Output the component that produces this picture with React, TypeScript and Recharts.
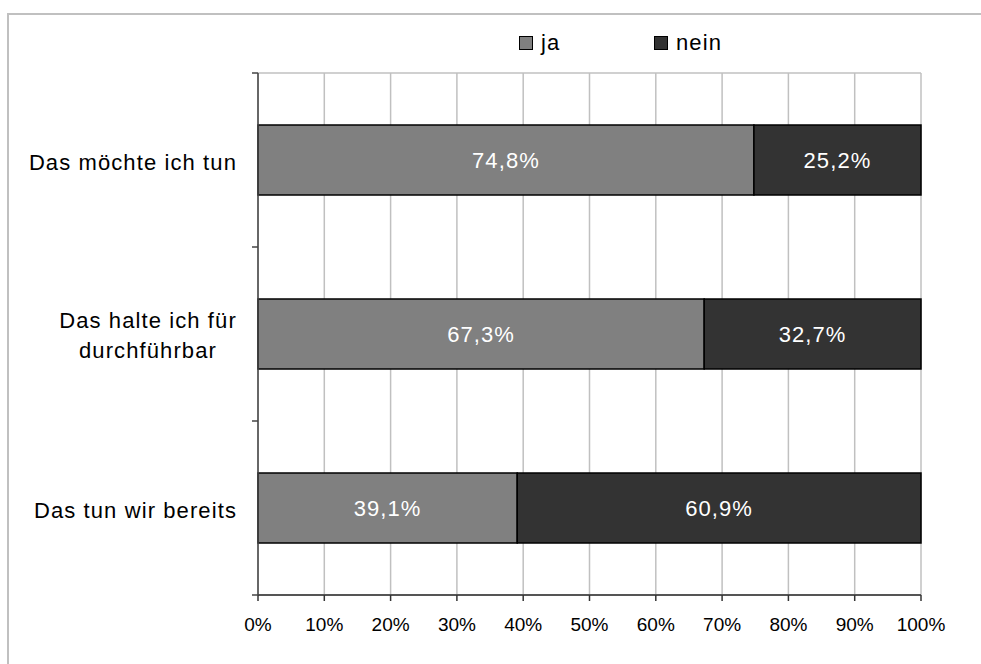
import React from "react";
import {
  BarChart, Bar, XAxis, YAxis, CartesianGrid, LabelList,
} from "recharts";

const categories = ["Das möchte ich tun", "Das halte ich für durchführbar", "Das tun wir bereits"];
const jaValues = [74.8, 67.3, 39.1];
const neinValues = [25.2, 32.7, 60.9];
const xTicks = [0, 10, 20, 30, 40, 50, 60, 70, 80, 90, 100];

const seriesInfo = [
  { key: "ja", name: "ja", color: "#808080" },
  { key: "nein", name: "nein", color: "#333333" },
];

const data = categories.map((name, i) => ({ name, ja: jaValues[i], nein: neinValues[i] }));

const FONT = "'Liberation Sans', Arial, sans-serif";
const AXIS = "#444";

const pct = (v: any) => `${Number(v).toFixed(1).replace(".", ",")}%`;

// label plus a tick mark at each band edge (Excel style)
const CategoryTick = (props: any) => {
  const { x, y, payload, index, visibleTicksCount } = props;
  const half = payload && payload.offset ? payload.offset : 87;
  const text: string = payload.value;
  const labelX = x - 21;
  let label;
  if (text.length <= 20) {
    label = (
      <text x={labelX} y={y} dy={10} textAnchor="end" fontSize={22} letterSpacing={1.1} fontFamily={FONT} fill="#000">
        {text}
      </text>
    );
  } else {
    const words = text.split(" ");
    const lines = [words.slice(0, -1).join(" "), words[words.length - 1]];
    const cx = labelX - 89;
    label = (
      <text x={cx} y={y} textAnchor="middle" fontSize={22} letterSpacing={1.1} fontFamily={FONT} fill="#000">
        {lines.map((l, i) => (
          <tspan key={i} x={cx} dy={i === 0 ? -6 : 30}>{l}</tspan>
        ))}
      </text>
    );
  }
  return (
    <g>
      <line x1={x - 6} x2={x} y1={y - half} y2={y - half} stroke={AXIS} strokeWidth={1.5} />
      {index === visibleTicksCount - 1 && (
        <line x1={x - 6} x2={x} y1={y + half} y2={y + half} stroke={AXIS} strokeWidth={1.5} />
      )}
      {label}
    </g>
  );
};

const LegendBox = () => (
  <div
    style={{
      position: "absolute", left: 519, top: 31, display: "flex",
      fontFamily: FONT, fontSize: 22, letterSpacing: 1.1, color: "#000", lineHeight: "24px",
    }}
  >
    {seriesInfo.map((s) => (
      <div key={s.key} style={{ display: "flex", alignItems: "center", width: 135 }}>
        <span
          style={{
            display: "inline-block", width: 12, height: 12, background: s.color,
            border: "1px solid #000", marginRight: 8,
          }}
        />
        <span>{s.name}</span>
      </div>
    ))}
  </div>
);

const topLine = ({ offset }: any) => [offset.top];

export default function App() {
  return (
    <div style={{ position: "fixed", inset: 0, overflow: "hidden", background: "#fff" }}>
      <div
        style={{
          position: "absolute", left: 7, top: 13, width: 1100, height: 800,
          border: "2px solid #c0c0c0",
        }}
      />
      <div style={{ position: "absolute", left: 0, top: 0 }}>
        <BarChart
          width={981}
          height={664}
          data={data}
          layout="vertical"
          barSize={70}
          margin={{ top: 73, right: 60, bottom: 29, left: 8 }}
        >
          <CartesianGrid
            stroke="#c0c0c0"
            strokeWidth={1.5}
            horizontalCoordinatesGenerator={topLine}
          />
          <XAxis
            type="number"
            domain={[0, 100]}
            ticks={xTicks}
            tickFormatter={(v) => `${v}%`}
            interval={0}
            height={40}
            tickSize={6}
            tickMargin={17}
            axisLine={{ stroke: "#555", strokeWidth: 2 }}
            tickLine={{ stroke: "#333", strokeWidth: 1.5 }}
            tick={{ fill: "#000", fontSize: 19, fontFamily: FONT }}
          />
          <YAxis
            type="category"
            dataKey="name"
            width={250}
            axisLine={{ stroke: AXIS, strokeWidth: 1.5 }}
            tickLine={false}
            tickSize={0}
            tickMargin={0}
            tick={<CategoryTick />}
          />
          {seriesInfo.map((s) => (
            <Bar
              key={s.key}
              dataKey={s.key}
              name={s.name}
              stackId="a"
              fill={s.color}
              stroke="#000"
              strokeWidth={1.5}
              isAnimationActive={false}
            >
              <LabelList
                dataKey={s.key}
                position="center"
                formatter={pct}
                fill="#fff"
                fontSize={22}
                letterSpacing={1.1}
                fontFamily={FONT}
              />
            </Bar>
          ))}
        </BarChart>
      </div>
      <LegendBox />
    </div>
  );
}
